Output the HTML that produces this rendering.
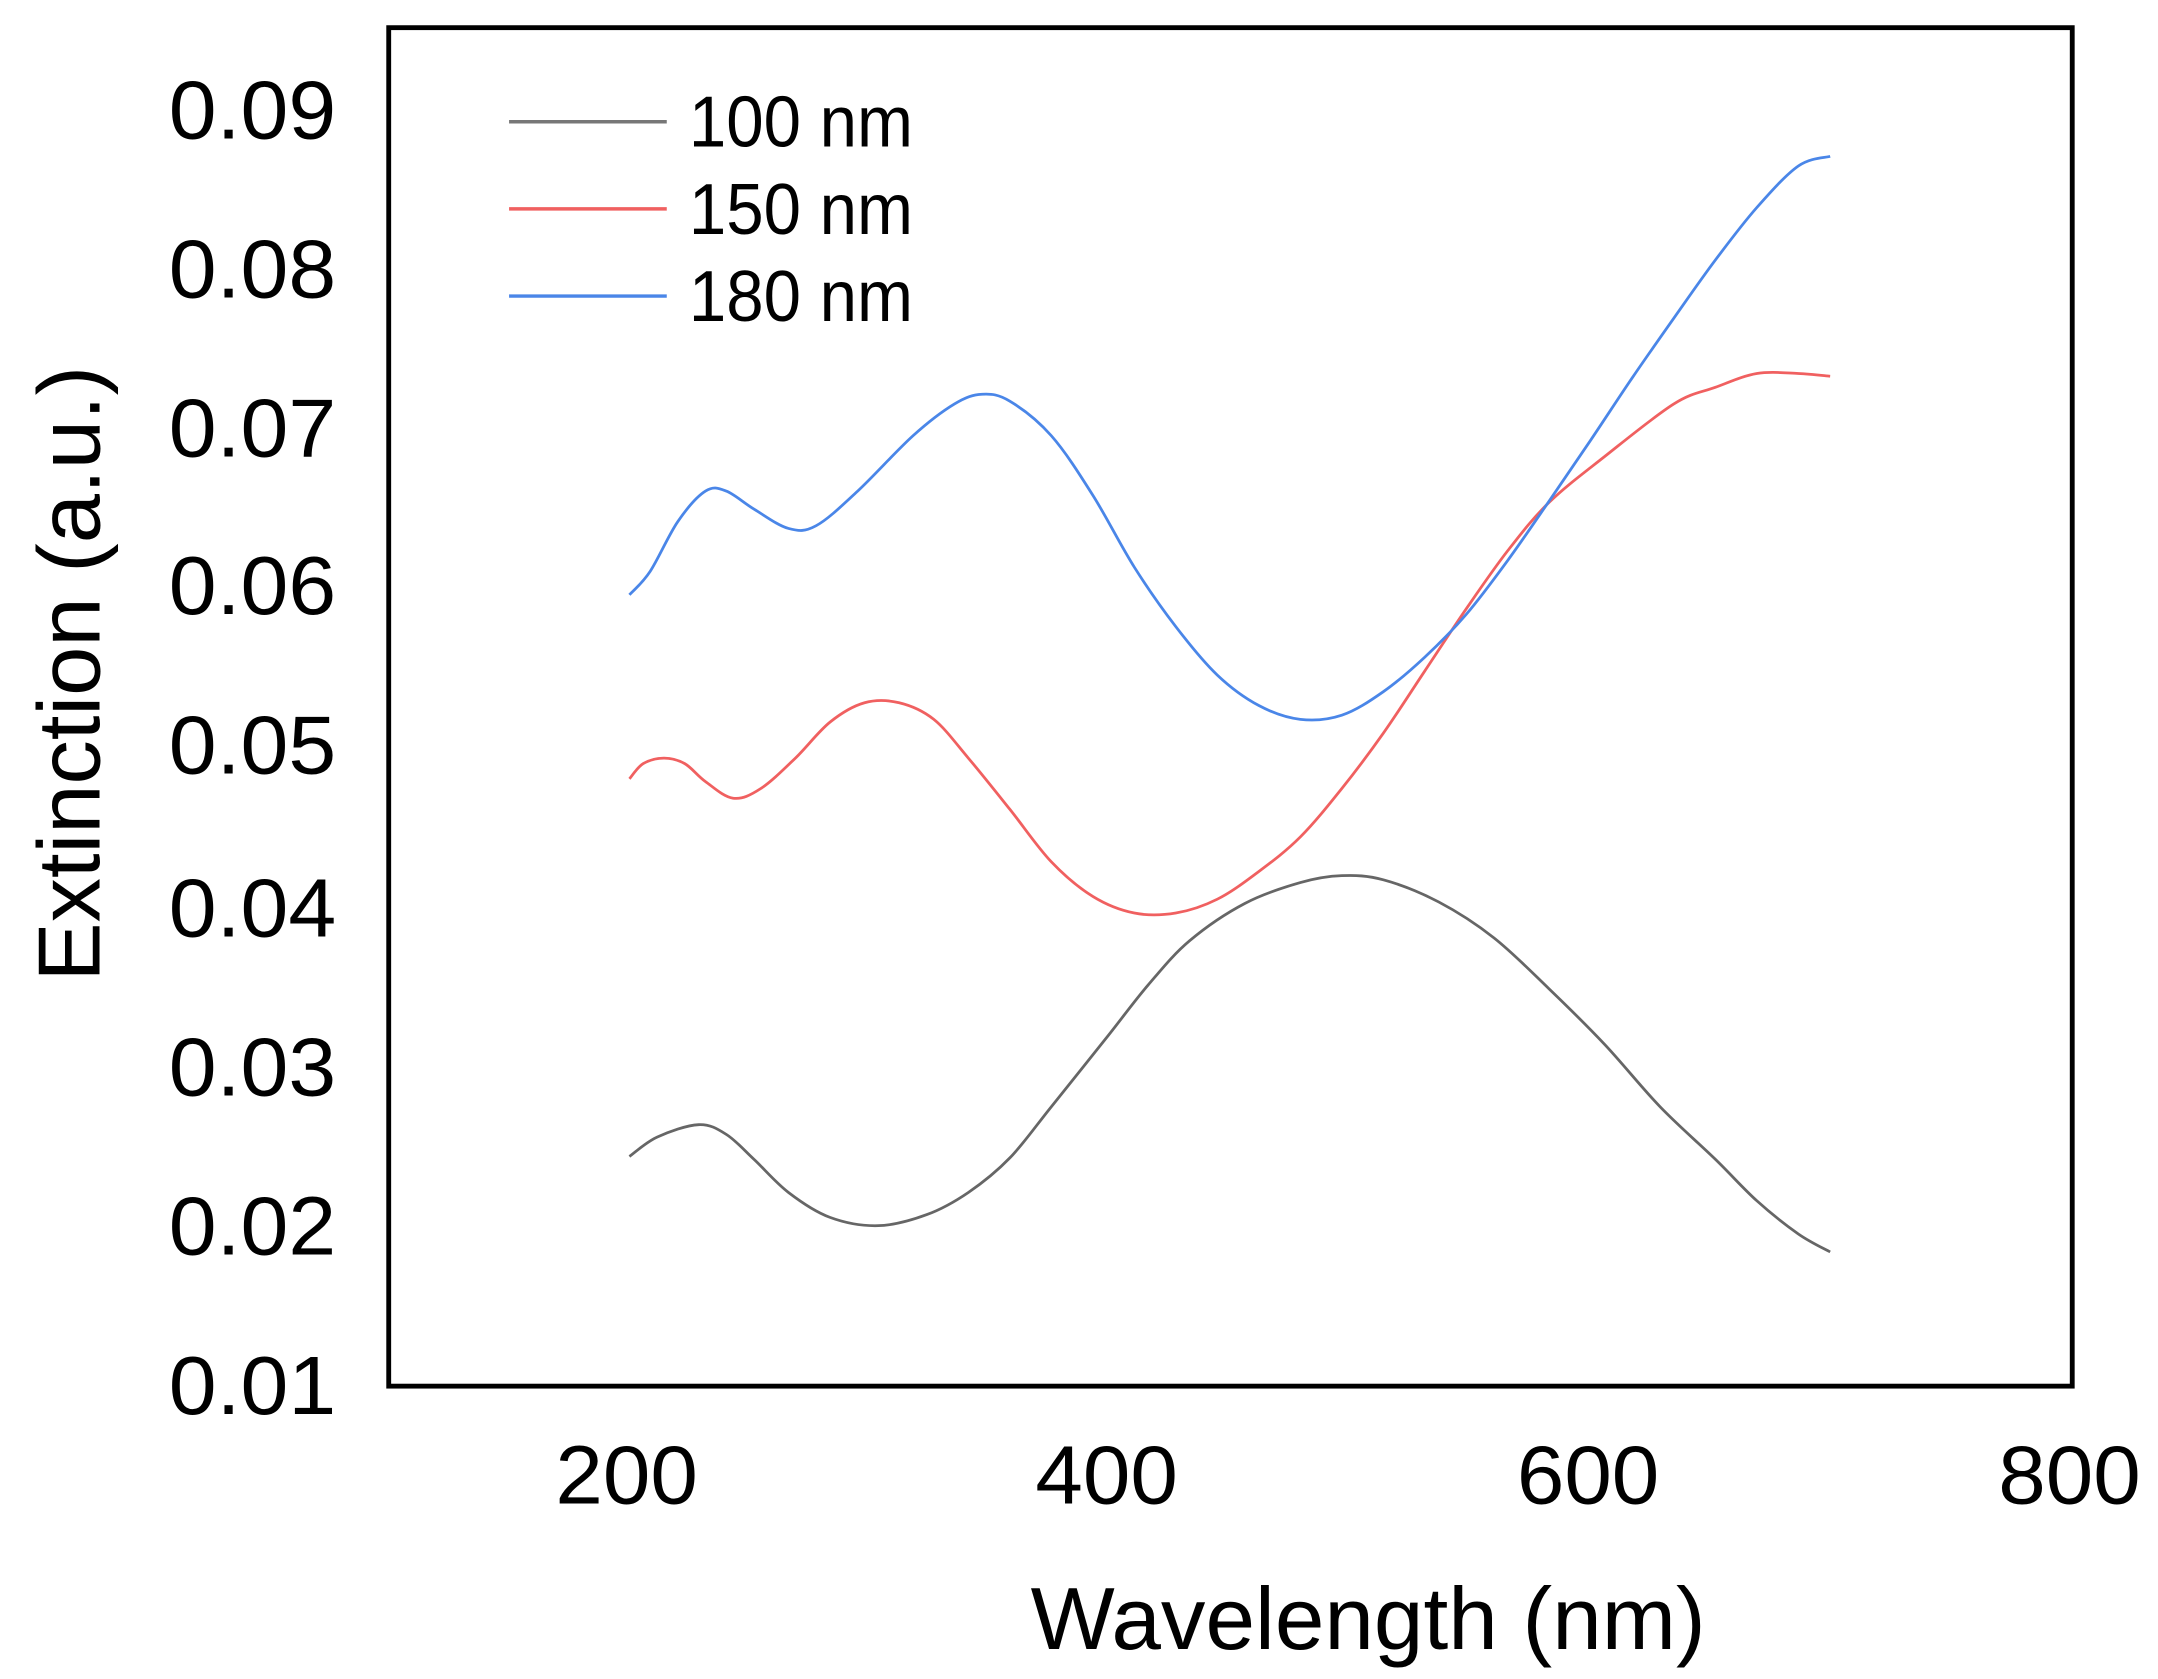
<!DOCTYPE html>
<html><head><meta charset="utf-8"><style>html,body{margin:0;padding:0;background:#fff}svg{display:block}</style></head>
<body>
<svg id="s" width="2158" height="1679" viewBox="0 0 1560 1213.7" preserveAspectRatio="none" xmlns="http://www.w3.org/2000/svg" font-family="Liberation Sans, Arial, sans-serif">
<rect x="281" y="20" width="1217" height="982" fill="none" stroke="#000" stroke-width="3.5"/>
<g font-size="60" text-anchor="end" fill="#000">
<text x="243" y="100" textLength="121" lengthAdjust="spacingAndGlyphs">0.09</text>
<text x="243" y="215" textLength="121" lengthAdjust="spacingAndGlyphs">0.08</text>
<text x="243" y="330" textLength="121" lengthAdjust="spacingAndGlyphs">0.07</text>
<text x="243" y="444" textLength="121" lengthAdjust="spacingAndGlyphs">0.06</text>
<text x="243" y="559" textLength="121" lengthAdjust="spacingAndGlyphs">0.05</text>
<text x="243" y="677" textLength="121" lengthAdjust="spacingAndGlyphs">0.04</text>
<text x="243" y="792" textLength="121" lengthAdjust="spacingAndGlyphs">0.03</text>
<text x="243" y="907" textLength="121" lengthAdjust="spacingAndGlyphs">0.02</text>
<text x="243" y="1022" textLength="121" lengthAdjust="spacingAndGlyphs">0.01</text>
</g>
<g font-size="60" text-anchor="middle" fill="#000">
<text x="453" y="1087" textLength="103" lengthAdjust="spacingAndGlyphs">200</text>
<text x="800" y="1087" textLength="103" lengthAdjust="spacingAndGlyphs">400</text>
<text x="1148" y="1087" textLength="103" lengthAdjust="spacingAndGlyphs">600</text>
<text x="1496" y="1087" textLength="103" lengthAdjust="spacingAndGlyphs">800</text>
</g>
<text x="989" y="1192" font-size="64" text-anchor="middle" textLength="488" lengthAdjust="spacingAndGlyphs">Wavelength (nm)</text>
<text transform="translate(72,487) rotate(-90)" font-size="64" text-anchor="middle" textLength="445" lengthAdjust="spacingAndGlyphs">Extinction (a.u.)</text>
<g stroke-width="2.5">
<line x1="368" y1="88" x2="482" y2="88" stroke="#777"/>
<line x1="368" y1="151" x2="482" y2="151" stroke="#f06060"/>
<line x1="368" y1="214" x2="482" y2="214" stroke="#4a86e8"/>
</g>
<g font-size="52" fill="#000">
<text x="498" y="106" textLength="162" lengthAdjust="spacingAndGlyphs">100 nm</text>
<text x="498" y="169" textLength="162" lengthAdjust="spacingAndGlyphs">150 nm</text>
<text x="498" y="232" textLength="162" lengthAdjust="spacingAndGlyphs">180 nm</text>
</g>
<g fill="none" stroke-width="2" stroke-linejoin="round">
<polyline class="c" stroke="#666" points="455,836 475,822 505,813 525,820 545,838 570,862 600,880 635,886 670,878 700,862 730,837 760,800 800,750 830,712 860,680 900,653 940,638 970,633 1000,636 1040,652 1080,678 1120,715 1160,755 1200,800 1240,838 1270,868 1300,892 1323,905"/>
<polyline class="c" stroke="#f06060" points="455,563 465,552 480,548 495,552 510,565 530,577 550,570 575,548 600,522 625,508 650,508 675,520 700,548 730,585 760,623 790,648 820,660 850,660 880,650 910,630 940,605 970,570 1000,530 1030,485 1060,440 1090,398 1120,363 1160,330 1210,292 1240,280 1270,270 1300,270 1323,272"/>
<polyline class="c" stroke="#4a86e8" points="455,430 470,413 490,377 510,355 525,355 545,368 570,382 590,380 620,355 660,315 690,292 710,285 730,290 760,315 790,358 820,410 850,453 880,488 910,510 940,520 970,517 1000,500 1030,475 1060,444 1090,405 1120,362 1150,318 1180,273 1210,230 1240,188 1270,150 1300,120 1323,113"/>
</g>
</svg>
<script>
document.querySelectorAll('polyline.c').forEach(function(pl){
  var p=pl.getAttribute('points').trim().split(/\s+/).map(function(s){return s.split(',').map(Number);});
  var d='M'+p[0][0]+','+p[0][1];
  for(var i=0;i<p.length-1;i++){
    var p0=p[Math.max(0,i-1)],p1=p[i],p2=p[i+1],p3=p[Math.min(p.length-1,i+2)];
    var c1x=p1[0]+(p2[0]-p0[0])/6,c1y=p1[1]+(p2[1]-p0[1])/6;
    var c2x=p2[0]-(p3[0]-p1[0])/6,c2y=p2[1]-(p3[1]-p1[1])/6;
    d+=' C'+c1x+','+c1y+' '+c2x+','+c2y+' '+p2[0]+','+p2[1];
  }
  var path=document.createElementNS('http://www.w3.org/2000/svg','path');
  path.setAttribute('d',d);path.setAttribute('stroke',pl.getAttribute('stroke'));
  pl.parentNode.replaceChild(path,pl);
});
</script>
</body></html>
